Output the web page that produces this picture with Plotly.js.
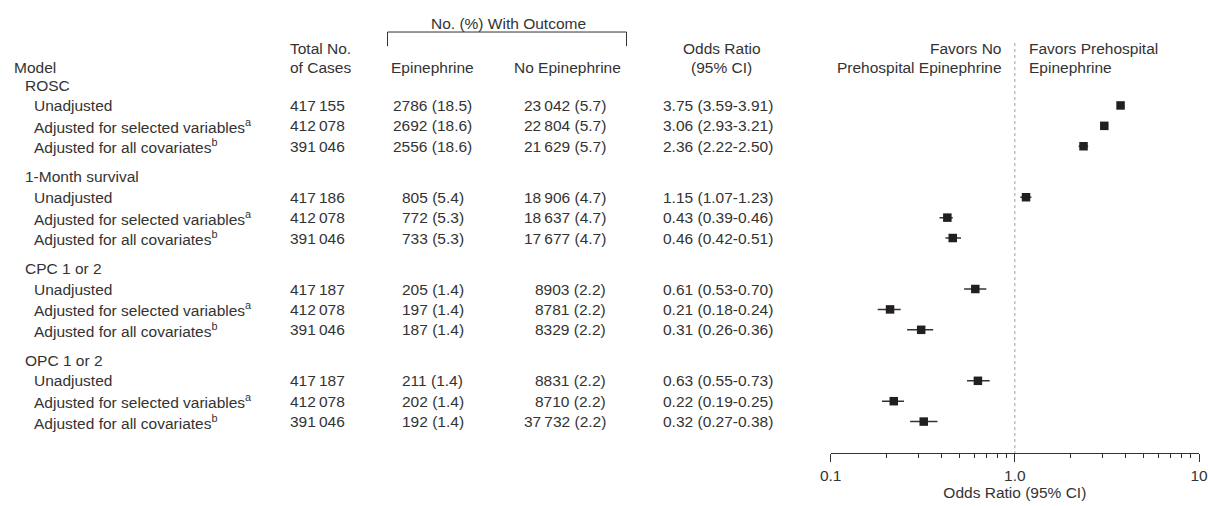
<!DOCTYPE html>
<html>
<head>
<meta charset="utf-8">
<script src="https://cdn.plot.ly/plotly-3.0.1.min.js"></script>
<style>html,body{margin:0;padding:0;background:#fff;}#chart{width:1208px;height:506px;}</style>
</head>
<body>
<div id="chart"></div>
<script>
// ---- data ----
var groups = ['ROSC', '1-Month survival', 'CPC 1 or 2', 'OPC 1 or 2'];
var models = ['Unadjusted', 'Adjusted for selected variables<sup>a</sup>', 'Adjusted for all covariates<sup>b</sup>'];
var totalCases = [417155, 412078, 391046, 417186, 412078, 391046, 417187, 412078, 391046, 417187, 412078, 391046];
var epiN = [2786, 2692, 2556, 805, 772, 733, 205, 197, 187, 211, 202, 192];
var epiPct = [18.5, 18.6, 18.6, 5.4, 5.3, 5.3, 1.4, 1.4, 1.4, 1.4, 1.4, 1.4];
var noEpiN = [23042, 22804, 21629, 18906, 18637, 17677, 8903, 8781, 8329, 8831, 8710, 37732];
var noEpiPct = [5.7, 5.7, 5.7, 4.7, 4.7, 4.7, 2.2, 2.2, 2.2, 2.2, 2.2, 2.2];
var oddsRatio = [3.75, 3.06, 2.36, 1.15, 0.43, 0.46, 0.61, 0.21, 0.31, 0.63, 0.22, 0.32];
var ciLow = [3.59, 2.93, 2.22, 1.07, 0.39, 0.42, 0.53, 0.18, 0.26, 0.55, 0.19, 0.27];
var ciHigh = [3.91, 3.21, 2.50, 1.23, 0.46, 0.51, 0.70, 0.24, 0.36, 0.73, 0.25, 0.38];
var tickVals = [0.1, 1, 10];
var tickText = ['0.1', '1.0', '10'];
var minorTickVals = [0.2, 0.3, 0.4, 0.5, 0.6, 0.7, 0.8, 0.9, 2, 3, 4, 5, 6, 7, 8, 9];

// ---- layout helpers ----
var W = 1208;
var FONT = 'Liberation Sans, Arial, Helvetica, sans-serif';
var TXT = '#333333';
var FS = 15.5;
function px(x) { return x / W; }
function fmtInt(n) {
  var s = String(n);
  if (n >= 10000) s = s.slice(0, s.length - 3) + '\u2009' + s.slice(s.length - 3);
  return s;
}

// row positions (in row-step units)
var groupY = [], rowY = [];
var pos = 0;
for (var g = 0; g < groups.length; g++) {
  groupY.push(pos);
  for (var m = 0; m < models.length; m++) { pos += 1; rowY.push(pos); }
  pos += 1.5;
}

var ann = [];
function addText(text, x, y, anchor, extra) {
  var a = {text: text, xref: 'paper', yref: 'y', x: px(x), y: y, xanchor: anchor, yanchor: 'middle',
           showarrow: false, font: {family: FONT, size: FS, color: TXT}};
  if (extra) for (var k in extra) a[k] = extra[k];
  ann.push(a);
}

// header
addText('No. (%) With Outcome', 508, -3.04, 'center');
addText('Model', 12, -0.88, 'left');
addText('Total No.', 320, -1.81, 'center');
addText('of Cases', 320, -0.88, 'center');
addText('Epinephrine', 432.5, -0.88, 'center');
addText('No Epinephrine', 567.5, -0.88, 'center');
addText('Odds Ratio', 721.5, -1.81, 'center');
addText('(95% CI)', 721.5, -0.88, 'center');

for (var g2 = 0; g2 < groups.length; g2++) addText(groups[g2], 23, groupY[g2], 'left');
for (var i = 0; i < rowY.length; i++) {
  var y = rowY[i];
  addText(models[i % 3], 32, y, 'left');
  addText(fmtInt(totalCases[i]), 347, y, 'right');
  addText(fmtInt(epiN[i]) + ' (' + epiPct[i].toFixed(1) + ')', 432.5, y, 'center');
  addText(fmtInt(noEpiN[i]) + ' (' + noEpiPct[i].toFixed(1) + ')', 608, y, 'right');
  addText(oddsRatio[i].toFixed(2) + ' (' + ciLow[i].toFixed(2) + '-' + ciHigh[i].toFixed(2) + ')', 661, y, 'left');
}

// favors labels
function favors(text, y, anchor, shift) {
  ann.push({text: text, xref: 'x', yref: 'y', x: 0, y: y, xanchor: anchor, yanchor: 'middle',
    xshift: shift, showarrow: false, font: {family: FONT, size: FS, color: TXT}});
}
favors('Favors No', -1.81, 'right', -11);
favors('Prehospital Epinephrine', -0.88, 'right', -11);
favors('Favors Prehospital', -1.81, 'left', 12);
favors('Epinephrine', -0.88, 'left', 12);

var shapes = [
  {type: 'line', xref: 'x', yref: 'y', x0: 1, x1: 1, y0: -2.06, y1: 18.04,
   line: {color: '#a0a0a0', width: 1, dash: 'dot'}, layer: 'below'},
  {type: 'path', xref: 'paper', yref: 'y',
   path: 'M ' + px(387.5) + ' -1.91 L ' + px(387.5) + ' -2.6 L ' + px(626.5) + ' -2.6 L ' + px(626.5) + ' -1.91',
   line: {color: '#333', width: 1}}
];

var trace = {
  type: 'scatter', mode: 'markers',
  x: oddsRatio, y: rowY,
  marker: {symbol: 'square', size: 8.5, color: '#231f20'},
  error_x: {type: 'data', symmetric: false,
    array: ciHigh.map(function (h, k) { return h - oddsRatio[k]; }),
    arrayminus: ciLow.map(function (l, k) { return oddsRatio[k] - l; }),
    color: '#333', thickness: 1.5, width: 0},
  hoverinfo: 'skip', cliponaxis: false
};

var layout = {
  width: 1208, height: 506,
  margin: {l: 0, r: 0, t: 0, b: 53},
  paper_bgcolor: '#fff', plot_bgcolor: 'rgba(0,0,0,0)',
  showlegend: false, hovermode: false,
  font: {family: FONT, size: FS, color: TXT},
  xaxis: {
    type: 'log', range: [-1, 1], domain: [830.7 / W, 1199 / W],
    tickmode: 'array', tickvals: tickVals, ticktext: tickText,
    ticks: 'outside', ticklen: 8, tickwidth: 1, tickcolor: '#333',
    minor: {tickmode: 'array', tickvals: minorTickVals, ticks: 'outside', ticklen: 4, tickwidth: 1, tickcolor: '#333', showgrid: false},
    showline: true, linecolor: '#333', linewidth: 1,
    showgrid: false, zeroline: false, automargin: false,
    tickfont: {family: FONT, size: FS, color: TXT},
    title: {text: 'Odds Ratio (95% CI)', font: {family: FONT, size: FS, color: TXT}, standoff: 3}
  },
  yaxis: {range: [18.04, -4.17], visible: false, showgrid: false, zeroline: false, fixedrange: true},
  annotations: ann,
  shapes: shapes
};

Plotly.newPlot('chart', [trace], layout, {displayModeBar: false, staticPlot: true});
</script>
</body>
</html>
